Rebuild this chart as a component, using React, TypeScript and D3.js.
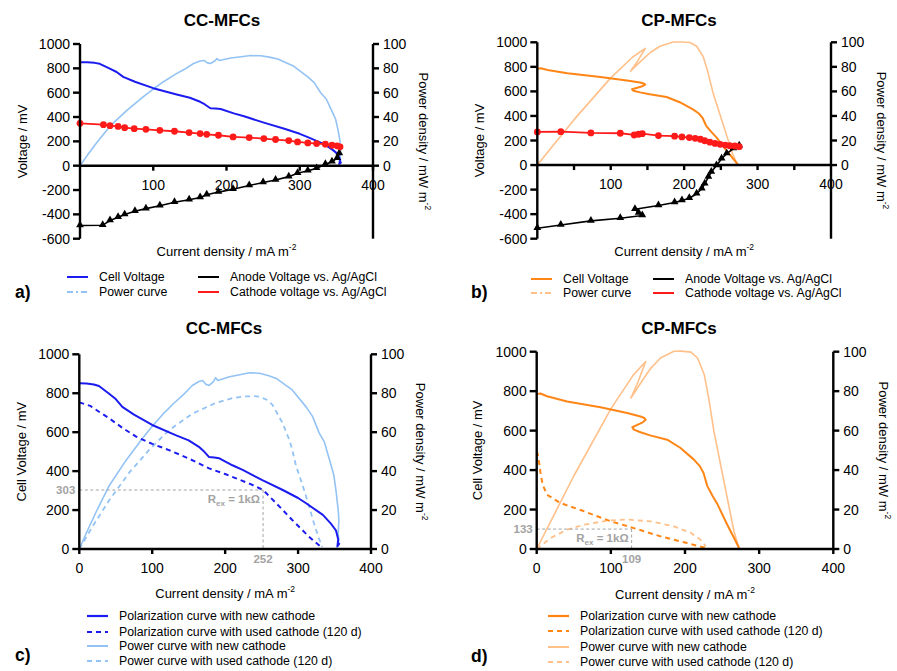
import React from "react";
import * as d3 from "d3";

type Pt = [number, number];

// ---- data: [current density mA m-2, value] ----
// CC-MFCs, new cathode (also used in panel a)
const ccVoltageNew: Pt[] = [
  [0, 851], [10, 850], [20, 845], [27, 837], [40, 800], [50, 770], [59, 730], [75, 690],
  [100, 637], [132, 585], [150, 558], [164, 525], [170, 505], [178, 472], [185, 470],
  [192, 466], [210, 430], [224, 406], [251, 354], [279, 303], [300, 262], [311, 235],
  [334, 175], [345, 130], [352, 95], [355, 50], [354, 15], [357, 30],
];
const ccPowerNew: Pt[] = [
  [0, 0], [10, 8.5], [23, 19], [41, 32.5], [64, 45.5], [87, 57], [100, 63], [114, 69],
  [130, 75], [142, 79], [155, 84], [164, 86], [169, 86.5], [174, 84.5], [178, 84],
  [184, 86], [187, 88], [190, 86.5], [206, 88.5], [220, 89.5], [233, 90.5], [247, 90.3],
  [260, 89], [270, 87.6], [292, 81.7], [311, 73], [320, 68], [329, 59.5], [336, 55],
  [343, 46], [349, 38], [352, 30], [355, 20], [356, 15], [355, 8], [356, 4], [353, 0],
];
// CC-MFCs, used cathode (120 d)
const ccVoltageUsed: Pt[] = [
  [0, 753], [15, 735], [27, 705], [41, 671], [60, 620], [78, 577], [100, 540], [123, 508],
  [150, 465], [178, 414], [200, 385], [215, 363], [235, 333], [247, 312], [252, 303],
  [270, 235], [292, 149], [315, 63], [331, 12], [333, 3],
];
const ccPowerUsed: Pt[] = [
  [0, 0], [18, 11.5], [41, 25], [69, 39.5], [96, 51], [123, 61], [155, 69.5], [187, 75],
  [210, 77.5], [224, 78.3], [240, 78.5], [247, 78.2], [258, 76.5], [265, 74], [279, 64.5],
  [288, 56], [292, 51], [297, 43], [306, 33], [315, 22], [322, 13], [328, 6], [333, 1],
];
// CC-MFCs electrode potentials vs. Ag/AgCl
const ccCathode: Pt[] = [
  [0, 348], [32, 337], [41, 329], [52, 323], [61, 312], [74, 304], [90, 299], [109, 291],
  [129, 283], [149, 272], [164, 264], [173, 258], [189, 250], [209, 236], [231, 231],
  [251, 223], [267, 215], [285, 206], [297, 195], [311, 187], [323, 182], [335, 177],
  [344, 168], [351, 163], [355, 155],
];
const ccAnode: Pt[] = [
  [0, -491], [31, -489], [41, -451], [52, -424], [61, -402], [75, -375], [90, -353],
  [109, -329], [129, -301], [149, -280], [164, -261], [173, -239], [189, -217], [209, -193],
  [231, -163], [250, -138], [267, -117], [285, -90], [297, -62], [311, -41], [323, -22],
  [335, 11], [344, 33], [351, 60], [354, 100],
];

// CP-MFCs, new cathode (also used in panel b)
const cpVoltageNew: Pt[] = [
  [0, 785], [5, 788], [14, 774], [41, 748], [86, 718], [122, 689], [140, 672], [145, 664],
  [147, 655], [143, 642], [135, 628], [129, 617], [131, 605], [140, 592], [153, 576],
  [176, 554], [194, 512], [212, 453], [220, 420], [225, 385], [230, 320], [237, 270],
  [244, 225], [257, 123], [265, 65], [273, 5],
];
const cpPowerNew: Pt[] = [
  [0, 0], [50, 37], [100, 71], [130, 88], [147, 95], [137, 85], [127, 76.5], [140, 84],
  [154, 91.7], [167, 96.8], [185, 100.2], [195, 100.3], [208, 99.8], [217, 96.8],
  [226, 88.3], [232, 76.5], [239, 59.6], [248, 42.7], [257, 25.8], [266, 9], [273, 0],
];
// CP-MFCs, used cathode (120 d)
const cpVoltageUsed: Pt[] = [
  [0, 495], [2, 470], [3, 444], [5, 390], [8, 326], [14, 275], [32, 233], [64, 191],
  [100, 140], [131, 106], [167, 64], [203, 30], [228, 5],
];
const cpPowerUsed: Pt[] = [
  [0, 0], [19, 5.6], [41, 9.8], [64, 12.3], [95, 14.4], [122, 14.9], [154, 14], [185, 11.5],
  [208, 8.1], [221, 4.7], [228, 1.4],
];
// CP-MFCs electrode potentials vs. Ag/AgCl
const cpCathode: Pt[] = [
  [0, 270], [32, 272], [73, 262], [113, 259], [132, 245], [138, 251], [143, 256],
  [165, 240], [187, 235], [197, 229], [207, 224], [215, 218], [222, 210], [228, 198],
  [235, 186], [242, 176], [249, 169], [256, 163], [262, 158], [269, 155], [275, 150],
];
const cpAnode: Pt[] = [
  [0, -515], [32, -488], [73, -455], [113, -433], [143, -411], [138, -390], [133, -360],
  [165, -330], [187, -305], [197, -289], [207, -270], [217, -234], [224, -193], [228, -153],
  [233, -98], [237, -57], [244, -3], [251, 52], [258, 93], [267, 134], [275, 158],
];

// ---- labels / ticks ----
const xTicksTop = [100, 200, 300, 400];
const xMinorTicksB = [50, 100, 150, 200, 250, 300, 350];
const xTicksBottom = [0, 100, 200, 300, 400];
const vTicksTop = [-600, -400, -200, 0, 200, 400, 600, 800, 1000];
const vTicksBottom = [0, 200, 400, 600, 800, 1000];
const pTicks = [0, 20, 40, 60, 80, 100];

const legendTop = ["Cell Voltage", "Power curve", "Anode Voltage vs. Ag/AgCl", "Cathode voltage vs. Ag/AgCl"];
const legendBottom = [
  "Polarization curve with new cathode",
  "Polarization curve with used cathode (120 d)",
  "Power curve with new cathode",
  "Power curve with used cathode (120 d)",
];
// [displayed label, drawn value] for the R_ex = 1 kΩ operating point
const opPointC = { xLabel: "252", yLabel: "303", x: 252, y: 303 };
const opPointD = { xLabel: "109", yLabel: "133", x: 128, y: 101 };

const FONT = "'Liberation Sans', Arial, sans-serif";
const BLUE = "#1c1cf0";
const LIGHT_BLUE = "#93c3f4";
const ORANGE = "#ff8616";
const LIGHT_ORANGE = "#ffc08a";
const RED = "#ff1a1a";
const GREY = "#a3a3a3";

type Series = {
  data: Pt[];
  axis: "v" | "p";
  color: string;
  width: number;
  dash?: string;
  marker?: "circle" | "triangle";
};
type LegendItem = { label: string; color: string; dash?: string; width: number; x: number; y: number };

type PanelProps = {
  left: number;
  right: number;
  top: number;
  bottom: number;
  vDomain: [number, number];
  vTicks: number[];
  xTicks: number[];
  xMinor?: number[];
  title: string;
  titleX: number;
  titleY: number;
  yTitle: string;
  yTitleX: number;
  pTitleX: number;
  xTitleY: number;
  series: Series[];
  legend: LegendItem[];
  letter: string;
  letterX: number;
  letterY: number;
  op?: { xLabel: string; yLabel: string; x: number; y: number };
};

function Panel(p: PanelProps) {
  const x = d3.scaleLinear().domain([0, 400]).range([p.left, p.right]);
  const yV = d3.scaleLinear().domain(p.vDomain).range([p.bottom, p.top]);
  const zero = yV(0);
  const yP = d3.scaleLinear().domain([0, 100]).range([zero, p.top]);
  const cx = (p.left + p.right) / 2;
  const midY = (p.top + p.bottom) / 2;
  const pMid = (p.top + zero) / 2 + (p.bottom - zero) / 2;
  const tri = d3.symbol(d3.symbolTriangle, 26)()!;

  return (
    <g fontFamily={FONT}>
      <text x={p.titleX} y={p.titleY} textAnchor="middle" fontSize={17} fontWeight="bold">
        {p.title}
      </text>

      {/* series */}
      {p.series.map((s, i) => {
        const y = s.axis === "v" ? yV : yP;
        const line = d3
          .line<Pt>()
          .x((d) => x(d[0]))
          .y((d) => y(d[1]));
        return (
          <g key={i}>
            <path
              d={line(s.data) || ""}
              fill="none"
              stroke={s.color}
              strokeWidth={s.width}
              strokeDasharray={s.dash}
              strokeLinejoin="round"
            />
            {s.marker === "circle" &&
              s.data.map((d, j) => <circle key={j} cx={x(d[0])} cy={y(d[1])} r={3.4} fill={s.color} />)}
            {s.marker === "triangle" &&
              s.data.map((d, j) => (
                <path key={j} d={tri} transform={`translate(${x(d[0])},${y(d[1]) - 0.5})`} fill={s.color} />
              ))}
          </g>
        );
      })}

      {/* operating point annotation */}
      {p.op && (
        <g fill={GREY} fontWeight="bold" fontSize={11.5}>
          <line x1={x(0)} x2={x(p.op.x)} y1={yV(p.op.y)} y2={yV(p.op.y)} stroke={GREY} strokeWidth={1} strokeDasharray="3,2.5" />
          <line x1={x(p.op.x)} x2={x(p.op.x)} y1={yV(p.op.y)} y2={zero} stroke={GREY} strokeWidth={1} strokeDasharray="3,2.5" />
          <text x={p.left - 4} y={yV(p.op.y)} dy="0.35em" textAnchor="end">{p.op.yLabel}</text>
          <text x={x(p.op.x)} y={zero + 10} dy="0.35em" textAnchor="middle">{p.op.xLabel}</text>
          <text x={x(p.op.x) - 3} y={yV(p.op.y) + 9} dy="0.35em" textAnchor="end">
            R<tspan fontSize={8} dy={3}>ex</tspan>
            <tspan dy={-3}> = 1kΩ</tspan>
          </text>
        </g>
      )}

      {/* axes */}
      <g stroke="#000" strokeWidth={2.4}>
        <line x1={p.left} x2={p.left} y1={p.top} y2={p.bottom} />
        <line x1={p.right} x2={p.right} y1={p.top} y2={p.bottom} />
        <line x1={p.left} x2={p.right} y1={zero} y2={zero} />
        {p.vTicks.map((t) => (
          <line key={"v" + t} x1={p.left - 7} x2={p.left} y1={yV(t)} y2={yV(t)} />
        ))}
        {pTicks.map((t) => (
          <line key={"p" + t} x1={p.right} x2={p.right + 6} y1={yP(t)} y2={yP(t)} />
        ))}
        {(p.xMinor || p.xTicks).map((t) => (
          <line key={"x" + t} x1={x(t)} x2={x(t)} y1={zero} y2={zero + 5} />
        ))}
      </g>
      <g fontSize={14} fill="#000">
        {p.vTicks.map((t) => (
          <text key={"vl" + t} x={p.left - 10} y={yV(t)} dy="0.36em" textAnchor="end">{t}</text>
        ))}
        {pTicks.map((t) => (
          <text key={"pl" + t} x={p.right + 10} y={yP(t)} dy="0.36em">{t}</text>
        ))}
        {p.xTicks.map((t) => (
          <text key={"xl" + t} x={x(t)} y={zero + 19} dy="0.36em" textAnchor="middle">{t}</text>
        ))}
      </g>

      {/* axis titles */}
      <text fontSize={13} x={cx} y={p.xTitleY} textAnchor="middle">
        Current density / mA m<tspan fontSize={8.5} dy={-6}>-2</tspan>
      </text>
      <text fontSize={13} transform={`translate(${p.yTitleX},${midY}) rotate(-90)`} textAnchor="middle" dy="0.36em">
        {p.yTitle}
      </text>
      <text fontSize={13} transform={`translate(${p.pTitleX},${pMid}) rotate(90)`} textAnchor="middle" dy="0.36em">
        Power density / mW m<tspan fontSize={8.5} dy={-6}>-2</tspan>
      </text>

      {/* legend */}
      {p.legend.map((l, i) => (
        <g key={"lg" + i}>
          <line x1={l.x} x2={l.x + 21} y1={l.y} y2={l.y} stroke={l.color} strokeWidth={l.width} strokeDasharray={l.dash} />
          <text x={l.x + 32} y={l.y} dy="0.36em" fontSize={12.3}>{l.label}</text>
        </g>
      ))}
      <text x={p.letterX} y={p.letterY} fontSize={17.5} fontWeight="bold">{p.letter}</text>
    </g>
  );
}

export default function App() {
  const legendA: LegendItem[] = [
    { label: legendTop[0], color: BLUE, width: 2, x: 67, y: 277 },
    { label: legendTop[1], color: LIGHT_BLUE, width: 2, dash: "6,3,2,3", x: 67, y: 292 },
    { label: legendTop[2], color: "#000", width: 2, x: 198, y: 277 },
    { label: legendTop[3], color: RED, width: 2, x: 198, y: 292 },
  ];
  const legendB: LegendItem[] = [
    { label: legendTop[0], color: ORANGE, width: 2, x: 531, y: 279 },
    { label: legendTop[1], color: LIGHT_ORANGE, width: 2, dash: "6,3,2,3", x: 531, y: 293 },
    { label: legendTop[2], color: "#000", width: 2, x: 653, y: 279 },
    { label: legendTop[3], color: RED, width: 2, x: 653, y: 293 },
  ];
  const legendC: LegendItem[] = [
    { label: legendBottom[0], color: BLUE, width: 2.2, x: 87, y: 616 },
    { label: legendBottom[1], color: BLUE, width: 2.2, dash: "5,4", x: 87, y: 632 },
    { label: legendBottom[2], color: LIGHT_BLUE, width: 2, x: 87, y: 646 },
    { label: legendBottom[3], color: LIGHT_BLUE, width: 2, dash: "5,4", x: 87, y: 661 },
  ];
  const legendD: LegendItem[] = [
    { label: legendBottom[0], color: ORANGE, width: 2.2, x: 548, y: 616 },
    { label: legendBottom[1], color: ORANGE, width: 2.2, dash: "5,4", x: 548, y: 631 },
    { label: legendBottom[2], color: LIGHT_ORANGE, width: 2, x: 548, y: 647 },
    { label: legendBottom[3], color: LIGHT_ORANGE, width: 2, dash: "5,4", x: 548, y: 662 },
  ];

  return (
    <svg width={897} height={671} style={{ position: "absolute", left: 0, top: 0, background: "#fff" }}>
      <Panel
        left={80} right={373} top={44} bottom={238.7} vDomain={[-600, 1000]}
        vTicks={vTicksTop} xTicks={xTicksTop} title="CC-MFCs" titleX={222} titleY={26}
        yTitle="Voltage / mV" yTitleX={22} pTitleX={424} xTitleY={256}
        series={[
          { data: ccPowerNew, axis: "p", color: LIGHT_BLUE, width: 1.6 },
          { data: ccVoltageNew, axis: "v", color: BLUE, width: 2 },
          { data: ccAnode, axis: "v", color: "#000", width: 1.6, marker: "triangle" },
          { data: ccCathode, axis: "v", color: RED, width: 1.8, marker: "circle" },
        ]}
        legend={legendA} letter="a)" letterX={15} letterY={298}
      />
      <Panel
        left={537.3} right={831} top={42.3} bottom={238.7} vDomain={[-600, 1000]}
        vTicks={vTicksTop} xTicks={xTicksTop} xMinor={xMinorTicksB} title="CP-MFCs" titleX={679} titleY={26}
        yTitle="Voltage / mV" yTitleX={479} pTitleX={882} xTitleY={256}
        series={[
          { data: cpPowerNew, axis: "p", color: LIGHT_ORANGE, width: 1.6 },
          { data: cpVoltageNew, axis: "v", color: ORANGE, width: 2 },
          { data: cpAnode, axis: "v", color: "#000", width: 1.6, marker: "triangle" },
          { data: cpCathode, axis: "v", color: RED, width: 1.8, marker: "circle" },
        ]}
        legend={legendB} letter="b)" letterX={471} letterY={298}
      />
      <Panel
        left={79.3} right={371} top={354.3} bottom={549} vDomain={[0, 1000]}
        vTicks={vTicksBottom} xTicks={xTicksBottom} title="CC-MFCs" titleX={224} titleY={334}
        yTitle="Cell Voltage / mV" yTitleX={21} pTitleX={421} xTitleY={598}
        series={[
          { data: ccPowerNew, axis: "p", color: LIGHT_BLUE, width: 1.6 },
          { data: ccPowerUsed, axis: "p", color: LIGHT_BLUE, width: 1.8, dash: "5,4" },
          { data: ccVoltageNew, axis: "v", color: BLUE, width: 2 },
          { data: ccVoltageUsed, axis: "v", color: BLUE, width: 2, dash: "5,4" },
        ]}
        legend={legendC} letter="c)" letterX={15} letterY={661} op={opPointC}
      />
      <Panel
        left={536.7} right={833.3} top={351.7} bottom={549} vDomain={[0, 1000]}
        vTicks={vTicksBottom} xTicks={xTicksBottom} title="CP-MFCs" titleX={679} titleY={334}
        yTitle="Cell Voltage / mV" yTitleX={477} pTitleX={884} xTitleY={599}
        series={[
          { data: cpPowerNew, axis: "p", color: LIGHT_ORANGE, width: 1.6 },
          { data: cpPowerUsed, axis: "p", color: LIGHT_ORANGE, width: 1.8, dash: "5,4" },
          { data: cpVoltageNew, axis: "v", color: ORANGE, width: 2 },
          { data: cpVoltageUsed, axis: "v", color: ORANGE, width: 2, dash: "5,4" },
        ]}
        legend={legendD} letter="d)" letterX={471} letterY={662} op={opPointD}
      />
    </svg>
  );
}
